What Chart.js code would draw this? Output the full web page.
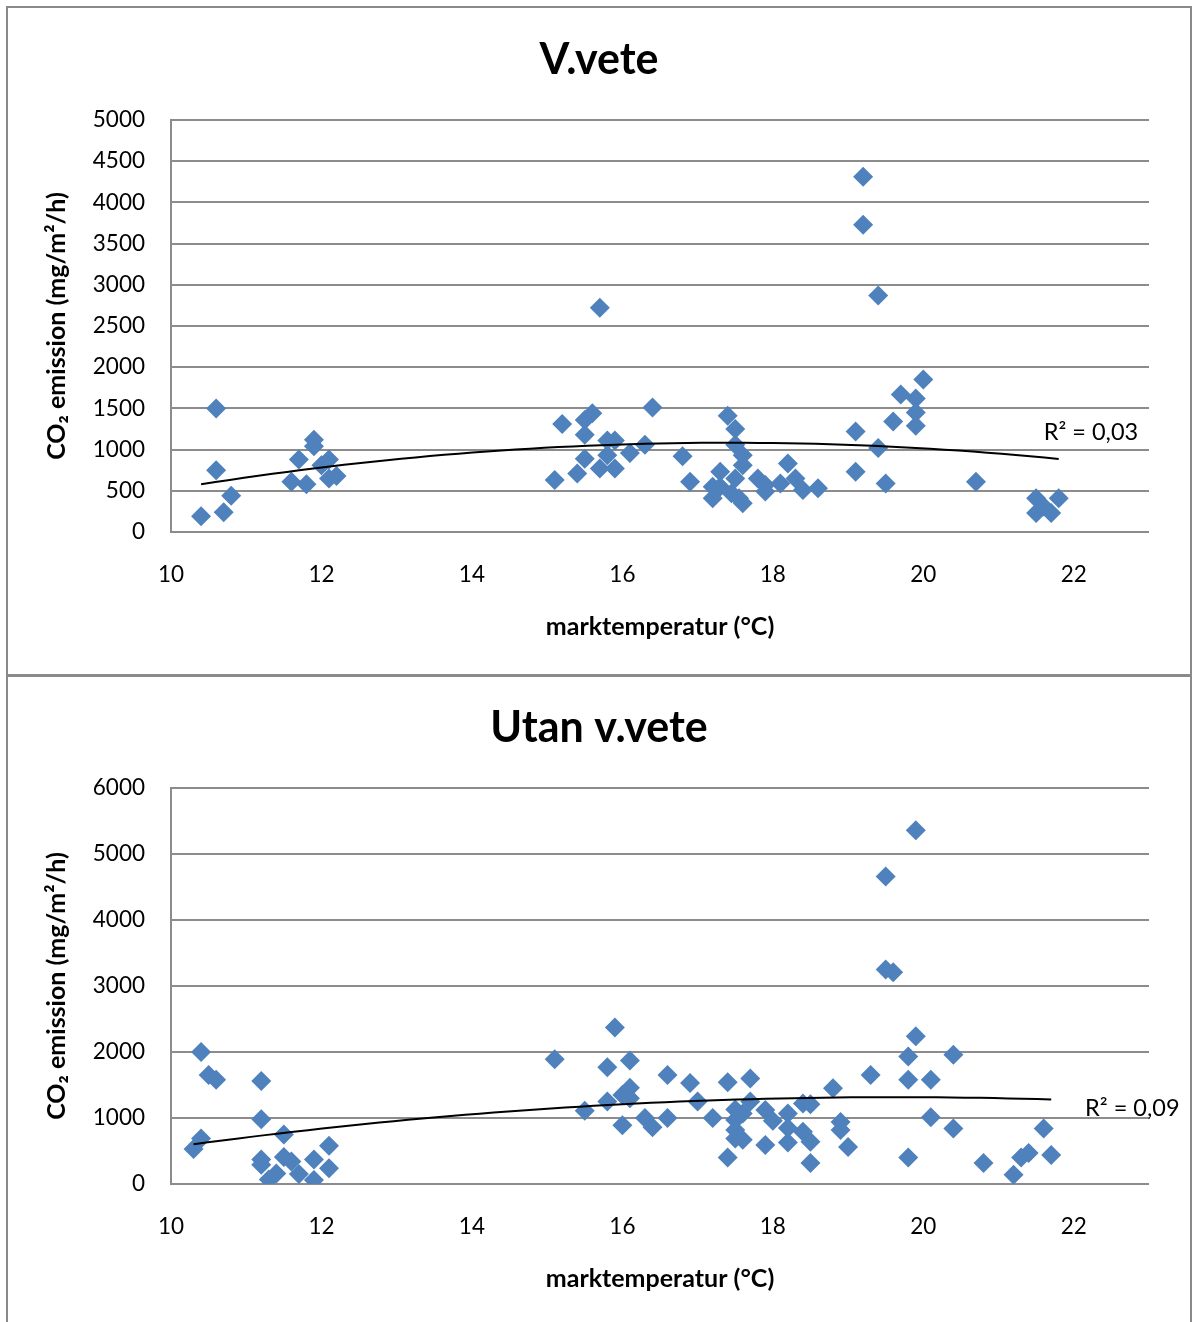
<!DOCTYPE html>
<html>
<head>
<meta charset="utf-8">
<title>CO2 emission vs marktemperatur</title>
<script src="https://cdn.jsdelivr.net/npm/chart.js@4.4.1/dist/chart.umd.min.js"></script>
<style>
  body { margin: 0; background: #fff; overflow: hidden; }
  .box { position: absolute; left: 6px; width: 1182px; border: 2px solid #8a8a8a; background: #fff; }
  #box1 { top: 6px; height: 666px; }
  #box2 { top: 675px; height: 649px; }
  canvas { display: block; }
</style>
</head>
<body>
<div class="box" id="box1"><canvas id="veteChart" width="1182" height="666"></canvas></div>
<div class="box" id="box2"><canvas id="utanChart" width="1182" height="649"></canvas></div>
<script>
// V.vete - marktemperatur (°C) and CO2 emission (mg/m2/h)
const tempVete = [
  10.4, 10.6, 10.6, 10.7, 10.8,
  11.6, 11.7, 11.8, 11.9, 11.9, 12.0, 12.1, 12.1, 12.2,
  15.1, 15.2, 15.4, 15.5, 15.5, 15.5, 15.6, 15.7, 15.7, 15.8, 15.8, 15.9, 15.9, 16.1, 16.3, 16.4, 16.8, 16.9,
  17.2, 17.2, 17.3, 17.3, 17.4, 17.45, 17.5, 17.5, 17.5, 17.55, 17.6, 17.6, 17.6, 17.8, 17.9, 17.9, 18.1, 18.2, 18.3, 18.4, 18.6,
  19.1, 19.1, 19.2, 19.2, 19.4, 19.4, 19.5, 19.6, 19.7, 19.9, 19.9, 19.9, 20.0,
  20.7, 21.5, 21.5, 21.6, 21.7, 21.8
];
const co2Vete = [
  190, 1500, 750, 240, 440,
  610, 880, 580, 1120, 1040, 810, 880, 650, 680,
  630, 1310, 710, 1360, 1180, 890, 1440, 2720, 770, 1110, 930, 1110, 770, 960, 1060, 1510, 920, 610,
  550, 410, 730, 550, 1410, 470, 1250, 1060, 650, 410, 930, 810, 350, 650, 570, 490, 590, 830, 650, 510, 530,
  1220, 730, 4310, 3730, 2870, 1020, 590, 1340, 1670, 1620, 1450, 1290, 1850,
  610, 410, 230, 310, 230, 410
];

// Utan v.vete
const tempUtan = [
  10.3, 10.4, 10.4, 10.5, 10.6,
  11.2, 11.2, 11.2, 11.2, 11.3, 11.4, 11.5, 11.5, 11.6, 11.7, 11.9, 11.9, 12.1, 12.1,
  15.1, 15.5, 15.8, 15.8, 15.9, 16.0, 16.0, 16.1, 16.1, 16.1, 16.3, 16.4, 16.6, 16.6, 16.9, 17.0, 17.2,
  17.4, 17.4, 17.5, 17.5, 17.5, 17.5, 17.6, 17.6, 17.7, 17.7, 17.9, 17.9, 18.0, 18.2, 18.2, 18.2,
  18.4, 18.4, 18.5, 18.5, 18.5, 18.8, 18.9, 18.9, 19.0,
  19.3, 19.5, 19.5, 19.6, 19.8, 19.8, 19.8, 19.9, 19.9, 20.1, 20.1, 20.4, 20.4,
  20.8, 21.2, 21.3, 21.4, 21.6, 21.7
];
const co2Utan = [
  530, 2000, 690, 1650, 1580,
  1560, 980, 370, 290, 70, 160, 750, 410, 340, 150, 370, 60, 580, 240,
  1890, 1110, 1770, 1250, 2370, 1350, 890, 1870, 1460, 1300, 1000, 860, 1650, 1000, 1530, 1250, 1000,
  1540, 400, 1130, 970, 820, 690, 1070, 670, 1600, 1250, 1120, 590, 960, 1070, 850, 630,
  1220, 790, 1210, 640, 320, 1450, 940, 820, 560,
  1650, 4660, 3250, 3210, 1930, 1580, 400, 2240, 5360, 1580, 1010, 1960, 840,
  320, 140, 400, 470, 840, 440
];

const xTicks = [10, 12, 14, 16, 18, 20, 22];
const r2Texts = ['R\u00b2 = 0,03', 'R\u00b2 = 0,09'];

const markerColor = '#4F81BD';
const gridColor = '#8c8c8c';

Chart.defaults.font.family = 'Lato, "Open Sans", sans-serif';
Chart.defaults.color = '#000';

// Second-order polynomial least-squares fit (like the Excel trendline)
function polyFit2(xs, ys) {
  let s = [0, 0, 0, 0, 0], t = [0, 0, 0];
  for (let i = 0; i < xs.length; i++) {
    let p = 1;
    for (let k = 0; k < 5; k++) { s[k] += p; if (k < 3) t[k] += p * ys[i]; p *= xs[i]; }
  }
  const m = [[s[0], s[1], s[2], t[0]], [s[1], s[2], s[3], t[1]], [s[2], s[3], s[4], t[2]]];
  for (let c = 0; c < 3; c++) {
    for (let r = c + 1; r < 3; r++) {
      const f = m[r][c] / m[c][c];
      for (let k = c; k < 4; k++) m[r][k] -= f * m[c][k];
    }
  }
  const coef = [0, 0, 0];
  for (let r = 2; r >= 0; r--) {
    let v = m[r][3];
    for (let k = r + 1; k < 3; k++) v -= m[r][k] * coef[k];
    coef[r] = v / m[r][r];
  }
  return coef;
}

function trendPoints(xs, ys) {
  const c = polyFit2(xs, ys);
  const lo = Math.min(...xs), hi = Math.max(...xs);
  const pts = [];
  for (let i = 0; i <= 60; i++) {
    const x = lo + (hi - lo) * i / 60;
    pts.push({x: x, y: c[0] + c[1] * x + c[2] * x * x});
  }
  return pts;
}

// R² label placed in data coordinates
const r2Label = {
  id: 'r2Label',
  afterDatasetsDraw(chart, args, opts) {
    if (!opts.text) return;
    const {ctx, scales} = chart;
    ctx.save();
    ctx.font = '23.5px Lato, sans-serif';
    ctx.fillStyle = '#000';
    ctx.textBaseline = 'middle';
    ctx.fillText(opts.text, scales.x.getPixelForValue(opts.x), scales.y.getPixelForValue(opts.y));
    ctx.restore();
  }
};

function makeChart(id, title, xs, ys, yMax, yStep, r2, titlePad) {
  const points = xs.map((x, i) => ({x: x, y: ys[i]}));
  return new Chart(document.getElementById(id), {
    type: 'scatter',
    data: {
      datasets: [{
        type: 'line',
        data: trendPoints(xs, ys),
        borderColor: '#000',
        borderWidth: 2,
        pointRadius: 0,
        tension: 0,
        fill: false,
        order: 0
      }, {
        data: points,
        pointStyle: 'rectRot',
        pointRadius: 10,
        backgroundColor: markerColor,
        borderColor: markerColor,
        borderWidth: 0,
        order: 1
      }]
    },
    options: {
      responsive: false,
      animation: false,
      layout: { padding: 0 },
      plugins: {
        legend: { display: false },
        tooltip: { enabled: false },
        title: {
          display: true,
          text: title,
          font: { size: 43, weight: 'bold', lineHeight: 1.2 },
          color: '#000',
          padding: titlePad
        },
        r2Label: r2
      },
      scales: {
        x: {
          type: 'linear',
          min: 10,
          max: 23,
          afterFit: function(s) { s.height = 142; },
          afterBuildTicks: function(s) { s.ticks = xTicks.map(v => ({value: v})); },
          grid: { display: false, drawTicks: false },
          border: { display: false },
          ticks: { font: { size: 22.5 }, padding: 29 },
          title: {
            display: true,
            text: 'marktemperatur (\u00b0C)',
            font: { size: 25, weight: 'bold', lineHeight: 1.2 },
            padding: { top: 0, bottom: 32 }
          }
        },
        y: {
          min: 0,
          max: yMax,
          afterFit: function(s) { s.width = 163; },
          grid: { color: gridColor, lineWidth: 2, drawTicks: false },
          border: { display: true, color: gridColor, width: 2 },
          ticks: {
            stepSize: yStep,
            font: { size: 22.5 },
            padding: 26,
            callback: function(v) { return String(v); }
          },
          title: {
            display: true,
            text: 'CO\u2082 emission (mg/m\u00b2/h)',
            font: { size: 25, weight: 'bold', lineHeight: 1.2 },
            padding: { top: 34, bottom: 0 }
          }
        },
        pad: {
          position: 'right',
          display: true,
          afterFit: function(s) { s.width = 41; },
          grid: { display: false, drawTicks: false },
          border: { display: false },
          ticks: { display: false }
        }
      }
    },
    plugins: [r2Label]
  });
}

document.addEventListener('DOMContentLoaded', function() {
  makeChart('veteChart', 'V.vete', tempVete, co2Vete, 5000, 500,
    { text: r2Texts[0], x: 21.6, y: 1214 }, { top: 26, bottom: 34.4 });
  makeChart('utanChart', 'Utan v.vete', tempUtan, co2Utan, 6000, 1000,
    { text: r2Texts[1], x: 22.15, y: 1152 }, { top: 25.2, bottom: 34.2 });
});
</script>
</body>
</html>
